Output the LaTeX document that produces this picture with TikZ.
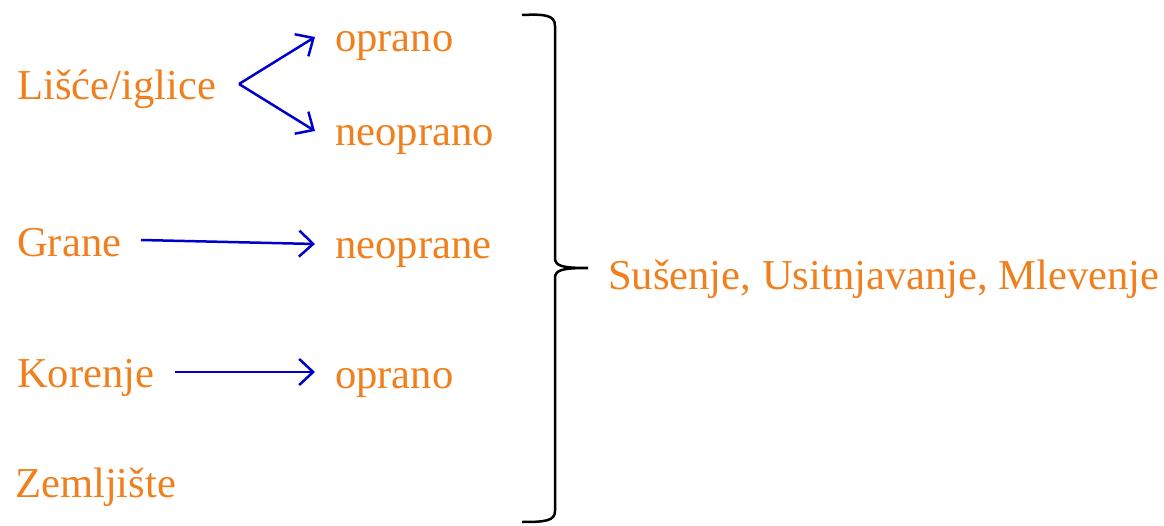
\documentclass[tikz,border=0pt]{standalone}
\usepackage{fontspec}
\setmainfont{Liberation Serif}
\usetikzlibrary{arrows.meta}
\definecolor{txtorange}{RGB}{240,128,30}
\definecolor{arrblue}{RGB}{0,0,204}
\tikzset{
  lbl/.style={anchor=base west, inner sep=0pt, text=txtorange, font=\fontsize{42.6}{50}\selectfont},
  arr/.style={draw=arrblue, line width=2.5pt, -{Straight Barb[length=14pt,width=26pt,line width=2.5pt]}},
  bracepath/.style={draw=black, line width=2.5pt}
}
\begin{document}
\begin{tikzpicture}[x=1pt,y=-1pt]
\useasboundingbox (0,0) rectangle (1164,526);
\node[lbl] (lisce) at (17,100) {Lišće/iglice};
\node[lbl] (opr1) at (335,52) {oprano};
\node[lbl] (neopr1) at (335,146) {neoprano};
\node[lbl] (grane) at (17,257) {Grane};
\node[lbl] (neopr2) at (335,259) {neoprane};
\node[lbl] (koren) at (17,387) {Korenje};
\node[lbl] (opr2) at (335,388) {oprano};
\node[lbl] (zemlj) at (15,497) {Zemljište};
\node[lbl] (suse) at (608,290) {Sušenje, Usitnjavanje, Mlevenje};
\coordinate (split) at (239,84);
\coordinate (t1) at (315,37);
\coordinate (t2) at (315,131);
\coordinate (g1) at (141,240);
\coordinate (g2) at (315,244);
\coordinate (k1) at (175,372);
\coordinate (k2) at (315,372);
\draw[arr] (split) -- (t1);
\draw[arr] (split) -- (t2);
\draw[arr] (g1) -- (g2);
\draw[arr] (k1) -- (k2);
\coordinate (btop) at (522,15);
\coordinate (btip) at (588,268);
\coordinate (bbot) at (522,522);
\draw[bracepath] (btop) .. controls (545,14) and (555,15) .. (555,26)
  -- (555,258) .. controls (555,266) and (562,268) .. (btip)
  .. controls (562,268) and (555,270) .. (555,278)
  -- (555,511) .. controls (555,521) and (545,522) .. (bbot);
\end{tikzpicture}
\end{document}
